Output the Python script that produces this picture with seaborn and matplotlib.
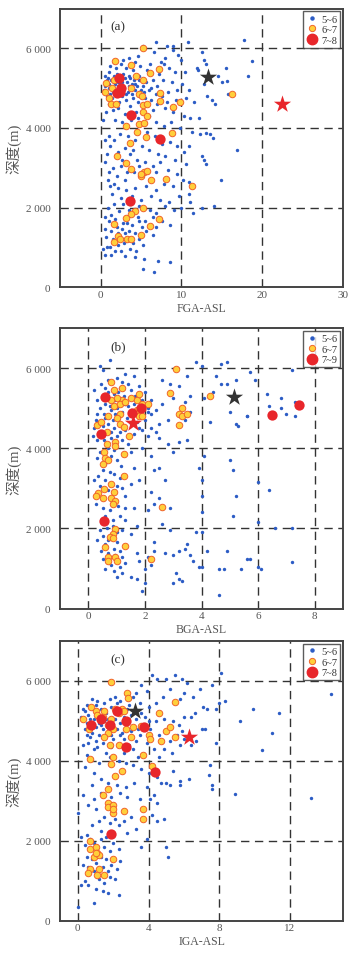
import matplotlib
matplotlib.use('Agg')
import matplotlib.pyplot as plt
from matplotlib.lines import Line2D
import seaborn as sns

# ---------------- panel (a): FGA-ASL ----------------
fga_small = [
    (5.3,6050),(6.9,6150),(8.2,6050),(8.9,6060),(9.0,5950),(10.8,6150),(12.5,5900),(17.8,6200),(18.7,5670),
    (18.3,5300),(11.9,5500),(12.1,5450),(9.6,5820),(8.0,5750),(6.6,5900),(7.8,5600),(4.6,5800),(3.5,5750),
    (2.8,5700),(4.2,5650),(6.1,5600),(7.5,5650),(9.9,5700),(10.5,5400),(12.8,5700),(13.0,5600),(15.5,5500),
    (14.5,5300),(15.7,5170),(15.0,5150),(12.8,5100),(11.0,4950),(10.1,5100),(9.2,5400),(8.5,5500),(7.2,5350),
    (6.5,5200),(5.8,5450),(4.9,5550),(4.0,5450),(3.2,5500),(2.5,5600),(1.9,5500),(1.2,5550),(0.5,5300),
    (0.8,5200),(1.1,5400),(2.0,5350),(2.8,5350),(3.5,5300),(4.1,5200),(4.8,5300),(5.6,5150),(6.2,5000),
    (7.0,5050),(7.7,5200),(8.8,5150),(9.5,4950),(8.3,4900),(7.6,4800),(6.8,4850),(6.0,4950),(5.2,5050),
    (4.5,5050),(3.9,5100),(3.3,5150),(2.7,5150),(1.8,5100),(1.3,5200),(0.6,5050),(0.4,4950),(1.0,5000),
    (1.5,4900),(2.1,5050),(2.9,5000),(3.4,4900),(4.2,4950),(4.8,4900),(0.8,4800),(1.4,4750),(2.6,4800),
    (3.1,4700),(4.0,4750),(4.6,4650),(5.5,4750),(6.3,4700),(7.0,4600),(8.2,4650),(9.3,4700),(10.6,4750),
    (11.5,4650),(13.8,4700),(14.1,4600),(13.2,4800),(15.8,4850),(12.2,4250),(11.1,4250),(10.3,4300),
    (9.0,4400),(8.0,4500),(6.5,4450),(6.0,4300),(4.4,4400),(3.0,4350),(2.2,4500),(1.5,4450),(1.0,4600),
    (0.7,4400),(1.8,4200),(2.7,4150),(3.8,4200),(4.6,4250),(6.9,4150),(7.8,4050),(8.7,4150),(9.8,4000),
    (11.3,3900),(12.3,3850),(13.0,3880),(13.6,3850),(13.9,3750),(16.9,3450),(11.0,3550),(12.6,3300),
    (12.8,3200),(13.0,3100),(10.3,3400),(9.5,3550),(8.6,3650),(7.6,3600),(6.7,3800),(5.8,3900),(4.3,3700),
    (3.4,3800),(2.4,3850),(1.7,3700),(1.2,3550),(0.8,3350),(2.2,3400),(3.0,3500),(4.0,3450),(5.1,3550),
    (6.0,3450),(7.1,3350),(8.0,3300),(9.2,3200),(10.6,3100),(7.4,3150),(6.5,3050),(5.5,3150),(4.5,3200),
    (3.6,3350),(2.6,3200),(1.5,3000),(1.0,2900),(2.0,2800),(3.0,2700),(4.1,2900),(4.7,3050),(6.9,2900),
    (8.3,2950),(9.5,2850),(10.2,2700),(11.0,2650),(14.9,2700),(9.0,2550),(7.8,2600),(6.8,2450),(5.6,2550),
    (4.3,2500),(3.2,2450),(2.1,2500),(1.2,2550),(0.9,2700),(1.4,2350),(2.5,2250),(3.9,2300),(5.0,2200),
    (6.2,2300),(7.3,2200),(8.5,2150),(9.7,2300),(11.0,2350),(11.1,2150),(12.5,2000),(14.0,2050),(11.4,1850),
    (10.0,2000),(9.1,1950),(8.0,2050),(6.9,1850),(6.1,1950),(4.8,2050),(2.8,2100),(1.6,2100),(0.9,2000),
    (0.5,1750),(1.3,1800),(2.3,1900),(3.5,1950),(4.6,1750),(5.5,1650),(6.5,1750),(7.6,1650),(8.6,1550),
    (6.8,1500),(5.1,1500),(3.9,1550),(2.8,1600),(1.8,1700),(1.0,1650),(0.5,1450),(1.3,1400),(2.6,1450),
    (3.5,1400),(4.3,1350),(5.6,1400),(6.5,1300),(4.8,1200),(3.0,1350),(2.0,1500),(0.7,1250),(1.5,1200),
    (2.9,1100),(4.0,1100),(5.3,1050),(0.3,950),(0.8,1000),(1.2,1000),(2.2,1050),(3.6,950),(4.4,900),
    (2.5,900),(1.8,900),(0.6,800),(1.3,800),(3.0,780),(4.3,750),(5.4,700),(7.1,650),(8.6,640),(5.3,450),
    (6.6,370),(2.2,1350),(3.3,1600),(4.8,1650),(1.7,2600),(2.5,3050),(3.3,2900),(0.6,3150),(0.3,4200),
    (1.0,3800),(0.5,3700),(1.6,5150),(2.4,5100),(3.0,5250),(1.1,5100),(2.6,5300),(3.7,5250),(1.9,4950),
    (2.7,4950),(3.5,5050),(0.9,5250),(1.7,5300),(2.2,5150),(3.1,4850),(1.2,4850),(4.3,5100),(4.7,5200),
    (5.0,4950),(3.9,4850),(2.3,4650),(3.6,4550),(1.7,4600),(5.4,4900),
]
fga_mid = [
    (1.8,5680),(5.3,6000),(0.7,5120),(1.6,5200),(2.2,5260),(1.4,5000),(2.5,4990),(0.6,4900),(1.0,4740),
    (1.3,4600),(1.9,4600),(3.8,5580),(3.8,5000),(4.4,5300),(5.3,5200),(6.1,5380),(7.2,5480),(4.7,4850),
    (5.1,4800),(5.3,4580),(5.8,4600),(7.3,4870),(7.4,4680),(9.0,4520),(9.8,4660),(16.2,4860),(5.3,4400),
    (5.7,4300),(3.1,4050),(4.8,4100),(5.4,4130),(4.5,3900),(3.6,3620),(5.6,3770),(8.8,3870),(2.0,3300),
    (3.2,3130),(3.8,2980),(5.4,2900),(5.8,2920),(5.0,2780),(5.0,2850),(6.3,2680),(8.1,2720),(11.3,2550),
    (5.3,1990),(4.3,1900),(3.8,1830),(3.1,1730),(7.2,1700),(6.1,1540),(1.6,1590),(2.2,1290),(1.7,1130),
    (2.4,1200),(3.3,1200),(3.8,1200),(5.0,1310),
]
fga_big = [(2.3,5250),(2.5,5000),(2.0,4880),(2.4,4900),(3.8,4330),(7.3,3720),(3.6,2170)]
fga_black_star = [(13.3,5270)]
fga_red_star = [(22.5,4600)]

# ---------------- panel (b): BGA-ASL ----------------
bga_small = [
    (0.4,6050),(0.75,6200),(0.5,5950),(1.3,5850),(1.0,5750),(1.6,5800),(2.6,5700),(2.9,5600),(3.2,5550),
    (3.5,5800),(3.8,6150),(4.0,6050),(4.7,6100),(4.9,6150),(4.5,5800),(5.2,5700),(5.7,5900),(5.9,5700),
    (7.2,5950),(6.3,5350),(6.8,5250),(7.3,5150),(6.4,5050),(6.8,5000),(7.0,4850),(7.3,4800),(5.6,4800),
    (5.2,4600),(5.0,4900),(4.9,5600),(4.4,5400),(4.1,5250),(3.6,5300),(3.4,5150),(3.0,5250),(2.6,5100),
    (2.4,4950),(2.2,4850),(2.5,4600),(2.8,4700),(3.6,4900),(3.4,4700),(4.3,4650),(3.2,4150),(3.0,3900),
    (2.2,4500),(2.1,4300),(1.9,4450),(1.7,4650),(1.5,4600),(1.35,4750),(1.2,4900),(1.0,5000),(0.8,4950),
    (0.6,5100),(0.4,5000),(0.3,4850),(0.25,4700),(0.2,4500),(0.4,4400),(0.5,4550),(0.7,4600),(0.85,4700),
    (0.9,4500),(1.1,4400),(1.3,4450),(1.6,4350),(1.8,4500),(2.0,4700),(2.1,5000),(2.2,5200),(2.0,5400),
    (1.8,5550),(1.4,5600),(1.1,5500),(0.9,5350),(0.7,5400),(0.5,5300),(0.3,5200),(0.2,5450),(0.45,5600),
    (0.7,5700),(1.2,5650),(1.5,5450),(1.65,5300),(1.4,5050),(1.6,5100),(1.7,4850),(1.5,4950),(1.25,5300),
    (0.95,5200),(0.75,5050),(0.55,4850),(0.35,4650),(0.15,4300),(0.3,4200),(0.55,4200),(0.8,4250),
    (1.0,4300),(1.2,4200),(1.4,4100),(0.7,4000),(0.9,3950),(0.4,3900),(0.3,3750),(0.6,3600),(0.8,3800),
    (1.0,3700),(1.15,3550),(0.5,3450),(0.75,3400),(0.35,3300),(0.2,3200),(0.6,3200),(0.9,3350),(1.1,3250),
    (0.4,3050),(0.7,2950),(1.0,3050),(1.2,3000),(0.25,2600),(0.5,2500),(0.75,2450),(1.05,2550),(1.3,2500),
    (0.6,2300),(0.85,2200),(1.1,2300),(1.3,2200),(0.4,1950),(0.65,2000),(0.85,2050),(1.0,1900),(1.2,1950),
    (0.5,1800),(0.7,1700),(1.0,1650),(0.3,1700),(0.6,1600),(0.9,1500),(1.1,1450),(0.45,1450),(0.7,1400),
    (0.95,1350),(1.2,1300),(0.5,1250),(0.8,1100),(1.1,1050),(1.3,1150),(0.6,1000),(0.9,950),(1.2,900),
    (1.0,800),(1.5,800),(1.7,750),(2.0,650),(1.9,450),(1.8,1200),(2.0,1000),(2.2,1100),(1.7,1400),
    (2.1,1300),(1.6,2500),(1.5,1850),(1.7,2050),(1.3,2800),(1.5,3100),(1.8,3200),(1.6,3500),(1.5,3900),
    (1.9,4000),(2.2,3800),(2.3,3450),(2.2,2900),(2.3,2600),(2.1,2450),(2.5,3500),(2.7,3200),(2.5,2750),
    (2.9,2500),(2.6,2100),(2.9,1950),(2.3,1650),(2.3,1450),(2.7,1400),(3.0,1350),(3.2,1450),(3.4,1500),
    (3.6,1350),(3.5,1600),(3.1,900),(3.2,750),(3.3,700),(3.0,650),(3.7,1200),(3.9,1050),(3.8,1900),
    (4.0,1900),(4.0,1050),(4.2,1450),(4.0,2400),(4.0,2800),(3.9,3500),(4.1,3800),(4.0,3200),(4.6,1000),
    (4.8,1000),(4.6,350),(4.9,1450),(5.1,2300),(5.2,2800),(5.1,3450),(5.0,3700),(5.4,1000),(5.6,1250),
    (5.7,1230),(6.0,1050),(6.1,1000),(6.0,2150),(6.0,3150),(6.4,2950),(6.6,2000),(7.2,2000),(7.2,1170),
    (5.3,4550),(5.6,4800),(4.7,5600),(3.5,4200),(2.8,4100),(2.5,4250),(2.4,4400),(0.95,4850),(1.05,5400),
    (0.6,5500),(1.9,5200),(2.1,4900),(1.3,5100),(0.8,4400),(0.6,4750),
]
bga_mid = [
    (3.1,5990),(0.8,5650),(1.2,5500),(0.9,5450),(1.5,5250),(1.2,5200),(1.0,5250),(0.8,5200),(0.9,5050),
    (1.1,5100),(1.3,5150),(1.7,5200),(1.8,5350),(1.9,5100),(2.1,5100),(1.7,4950),(1.8,4800),(1.9,4800),
    (1.1,4850),(0.7,4800),(1.0,4750),(1.1,4600),(1.25,4520),(0.3,4580),(0.45,4650),(1.45,4300),(0.65,4400),
    (2.9,5380),(3.3,5000),(3.2,4850),(3.3,4800),(3.5,4850),(3.2,4580),(4.3,5300),(0.65,4110),(0.95,4150),
    (0.95,4050),(0.55,3900),(0.6,3750),(0.7,3700),(0.5,3600),(1.25,3850),(1.25,3300),(0.8,3100),(0.55,2990),
    (0.35,2890),(0.25,2820),(0.9,2900),(0.5,2750),(0.8,2750),(0.95,2680),(0.85,2620),(2.6,2540),(0.95,1980),
    (0.85,1850),(0.75,1780),(0.85,1750),(0.6,1550),(1.3,1570),(0.7,1300),(0.95,1300),(1.0,1180),(0.7,1200),
    (2.2,1230),
]
bga_big = [(0.6,5270),(1.55,4890),(1.85,5000),(0.45,4350),(6.5,4840),(7.45,5080),(0.55,2180)]
bga_black_star = [(5.16,5270)]
bga_red_star = [(1.57,4620)]

# ---------------- panel (c): IGA-ASL ----------------
iga_small = [
    (0.3,5300),(0.2,5100),(0.5,4950),(0.4,4800),(0.6,5150),(0.9,5050),(0.8,4700),(1.2,4950),(1.0,4850),
    (1.3,5300),(1.5,5450),(1.1,5500),(0.8,5550),(0.5,5400),(1.8,5550),(2.1,5600),(2.4,5500),(2.9,5400),
    (3.3,5700),(3.6,5900),(3.9,5750),(4.2,6150),(4.5,6050),(5.0,6050),(5.5,6150),(5.9,6050),(6.2,5950),
    (7.6,5900),(8.1,6200),(8.0,5450),(8.3,5500),(7.8,5300),(6.9,5800),(6.5,5600),(6.0,5700),(5.8,5550),
    (5.2,5800),(4.8,5600),(4.4,5450),(4.0,5350),(3.6,5200),(3.3,5050),(3.0,5150),(2.8,5300),(2.4,4950),
    (2.2,4800),(2.1,5050),(1.6,5050),(1.4,4800),(1.2,4650),(1.0,4500),(0.7,4600),(0.5,4650),(0.3,4400),
    (1.1,4350),(1.4,4450),(1.6,4200),(2.0,4550),(2.4,4650),(2.6,4550),(2.9,4400),(3.3,4500),(3.5,4650),
    (3.9,4450),(4.3,4300),(4.6,4100),(4.9,4300),(5.3,4200),(5.8,4400),(6.0,4550),(6.4,4400),(6.7,4500),
    (7.0,4800),(7.2,4800),(7.3,5300),(6.4,5100),(6.0,5100),(5.7,4900),(5.4,5000),(4.9,5050),(4.4,5000),
    (4.1,4800),(3.4,4800),(3.0,4750),(2.5,4700),(1.9,4650),(0.9,4300),(7.8,4450),(7.5,3900),(7.4,3650),
    (7.6,3400),(7.6,3300),(6.3,3550),(5.8,3400),(5.8,3500),(5.4,3750),(5.0,3450),(5.2,3400),(4.7,3450),
    (4.5,3600),(4.0,3700),(3.6,3800),(3.1,3900),(2.7,3950),(2.3,4000),(1.8,4100),(1.2,3950),(0.9,3700),
    (0.8,3400),(1.3,3550),(1.7,3450),(2.2,3400),(2.7,3350),(3.2,3450),(3.9,3350),(4.3,3150),(3.5,3050),
    (2.8,3100),(2.4,3200),(1.9,3100),(1.3,3200),(0.9,3050),(0.6,2900),(1.0,2800),(1.5,2600),(2.1,2550),
    (2.6,2500),(3.0,2600),(3.3,2300),(2.8,2200),(2.3,2400),(1.8,2450),(1.2,2500),(0.8,2400),(4.2,2650),
    (4.5,2500),(4.9,2550),(3.9,2050),(3.6,1850),(5.0,1850),(5.1,1600),(4.1,3050),(4.5,2950),(1.3,2250),
    (0.2,2100),(0.5,2150),(0.4,1900),(0.7,2050),(0.9,1950),(1.3,2050),(1.6,2100),(2.0,1950),(2.3,1800),
    (1.8,1750),(1.5,1850),(1.3,1600),(1.6,1550),(1.9,1400),(2.2,1300),(2.4,1500),(1.7,1250),(1.4,1350),
    (1.0,1450),(0.8,1550),(0.5,1600),(0.3,1400),(0.6,1350),(0.9,1250),(1.2,1050),(1.5,950),(1.8,1100),
    (2.1,1050),(0.4,1000),(0.2,900),(0.6,900),(1.0,800),(1.4,750),(1.7,700),(2.3,650),(0.9,450),(0.0,350),
    (0.0,2700),(0.3,3150),(0.4,3850),(0.5,4150),(8.9,3180),(13.2,3080),(10.4,4260),(11.0,4700),(9.2,5000),
    (9.9,5300),(11.4,5200),(14.3,5680),(7.1,5350),(6.6,5200),(5.9,4750),(5.6,4650),(0.7,5050),(1.0,5400),
    (1.3,4900),(1.6,5200),(1.9,5350),(2.2,5450),(2.6,5100),(3.1,5600),(3.5,5450),(3.8,5100),(0.4,5250),
    (1.1,5200),(1.5,5000),(0.6,4450),(1.9,4350),(2.6,4200),(3.4,4100),(3.1,4300),(4.6,4650),(4.0,5000),
    (5.2,4500),
]
iga_mid = [
    (1.9,5980),(2.8,5690),(2.85,5570),(0.3,5050),(0.75,5350),(1.0,5250),(1.1,5150),(1.5,5250),(1.4,5100),
    (1.9,5050),(2.1,5300),(2.3,5200),(2.5,5300),(2.6,5250),(1.7,4900),(1.8,4850),(2.0,4800),(1.7,4700),
    (1.5,4600),(1.8,4400),(0.65,4800),(2.3,4400),(2.7,4800),(3.0,4600),(3.6,4880),(4.0,4650),(4.1,4550),
    (4.7,4500),(4.6,5200),(5.0,4750),(5.2,4850),(5.5,4600),(5.5,5480),(3.7,4150),(4.2,3880),(3.1,4850),
    (0.7,4050),(2.0,4100),(1.9,3920),(2.5,3750),(2.1,3620),(1.4,3150),(1.7,3300),(1.7,2950),(1.7,2850),
    (2.0,2900),(2.0,2700),(2.0,2800),(2.6,2740),(3.7,2800),(3.7,2550),(2.0,1540),(0.7,1980),(0.7,1800),
    (1.0,1850),(1.1,1700),(0.9,1600),(1.2,1650),(0.7,1300),(1.2,1300),(1.5,1150),(0.6,1200),(1.1,1150),
    (1.0,1700),
]
iga_big = [(0.75,4900),(1.3,5050),(1.8,4900),(2.2,5250),(2.7,5000),(3.75,4850),(2.75,4340),(4.35,3720),(1.9,2170)]
iga_black_star = [(3.25,5250)]
iga_red_star = [(6.3,4600)]

panel_names = ['(a)', '(b)', '(c)']
x_labels = ['FGA-ASL', 'BGA-ASL', 'IGA-ASL']
big_labels = ['7~8', '7~9', '7~8']
x_limits = [(-5, 30), (-1, 9), (-1, 15)]
x_ticks = [[0, 10, 20, 30], [0, 2, 4, 6, 8], [0, 4, 8, 12]]
y_ticks = [0, 2000, 4000, 6000]
y_tick_labels = ['0', '2 000', '4 000', '6 000']

panels = [
    (fga_small, fga_mid, fga_big, fga_black_star, fga_red_star),
    (bga_small, bga_mid, bga_big, bga_black_star, bga_red_star),
    (iga_small, iga_mid, iga_big, iga_black_star, iga_red_star),
]

sns.set_style('white')
plt.rcParams['font.family'] = ['Liberation Serif', 'Noto Sans CJK SC', 'DejaVu Sans']

blue = '#2c5cc5'
orange_face = '#ffcf3a'
orange_edge = '#f0642a'
red = '#e8262b'
dark = '#333333'
txt = '#555555'

fig = plt.figure(figsize=(3.54, 9.54), dpi=100)
boxes = [[0.170, 0.698, 0.799, 0.292],
         [0.170, 0.361, 0.799, 0.294],
         [0.170, 0.034, 0.799, 0.293]]

for i, (small, mid, big, bstar, rstar) in enumerate(panels):
    ax = fig.add_axes(boxes[i])
    # dashed grid at the tick positions
    for xv in x_ticks[i]:
        ax.axvline(xv, color=dark, lw=1.0, ls=(0, (6, 4)), zorder=1)
    for yv in y_ticks[1:]:
        ax.axhline(yv, color=dark, lw=1.0, ls=(0, (6, 4)), zorder=1)

    sns.scatterplot(x=[p[0] for p in small], y=[p[1] for p in small], ax=ax,
                    color=blue, s=6, linewidth=0, zorder=3)
    sns.scatterplot(x=[p[0] for p in mid], y=[p[1] for p in mid], ax=ax,
                    color=orange_face, edgecolor=orange_edge, s=22, linewidth=0.7, zorder=4)
    sns.scatterplot(x=[p[0] for p in big], y=[p[1] for p in big], ax=ax,
                    color=red, s=55, linewidth=0, zorder=5)
    sns.scatterplot(x=[p[0] for p in bstar], y=[p[1] for p in bstar], ax=ax,
                    color=dark, marker='*', s=170, linewidth=0, zorder=6)
    sns.scatterplot(x=[p[0] for p in rstar], y=[p[1] for p in rstar], ax=ax,
                    color=red, marker='*', s=170, linewidth=0, zorder=6)

    ax.set_xlim(*x_limits[i])
    ax.set_ylim(0, 7000)
    ax.set_xticks(x_ticks[i])
    ax.set_yticks(y_ticks)
    ax.set_yticklabels(y_tick_labels)
    ax.tick_params(length=0, labelsize=8, labelcolor=txt)
    ax.tick_params(axis='x', pad=2)
    ax.tick_params(axis='y', pad=7)
    for sp in ax.spines.values():
        sp.set_color('#444444')
        sp.set_linewidth(1.4)
    ax.set_xlabel(x_labels[i], fontsize=8.5, color=txt, labelpad=2)
    ax.set_ylabel('深度(m)', fontsize=10.5, color=txt, labelpad=3)
    ax.text(0.205, 0.935, panel_names[i], transform=ax.transAxes, fontsize=9.5,
            color=dark, ha='center', va='center')

    handles = [
        Line2D([], [], ls='', marker='o', ms=2.2, color=blue, mec=blue),
        Line2D([], [], ls='', marker='o', ms=4.5, color=orange_face, mec=orange_edge, mew=0.7),
        Line2D([], [], ls='', marker='o', ms=7.5, color=red, mec=red),
    ]
    leg = ax.legend(handles, ['5~6', '6~7', big_labels[i]], loc='upper right',
                    fontsize=7.5, frameon=True, fancybox=False, borderpad=0.3,
                    handlelength=1.0, handletextpad=0.4, labelspacing=0.12,
                    borderaxespad=0.25, labelcolor=dark)
    leg.get_frame().set_edgecolor('#333333')
    leg.get_frame().set_linewidth(1.0)

fig.savefig('out.png', dpi=100)
